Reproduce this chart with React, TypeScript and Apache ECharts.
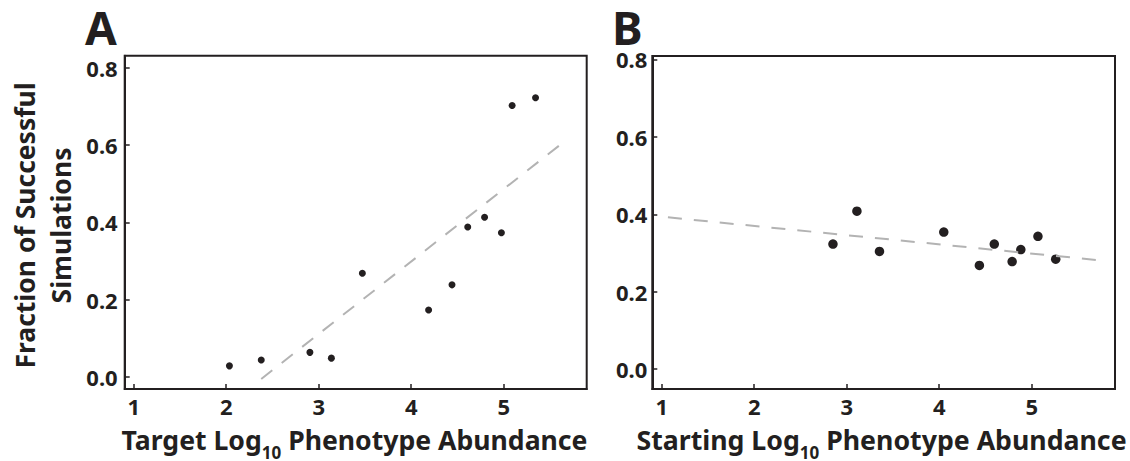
import React, { useEffect, useRef } from "react";
import * as echarts from "echarts";

const ticksX = [1, 2, 3, 4, 5];
const ticksY = [0, 0.2, 0.4, 0.6, 0.8];

const targetX = [2.035, 2.379, 2.905, 3.137, 3.472, 4.188, 4.441, 4.611, 4.793, 4.975, 5.091, 5.344];
const targetY = [0.028, 0.043, 0.063, 0.048, 0.268, 0.173, 0.238, 0.388, 0.413, 0.373, 0.703, 0.723];
const trendA = [[2.379, -0.006], [5.679, 0.614]];

const startX = [2.851, 3.11, 3.354, 4.049, 4.434, 4.595, 4.788, 4.882, 5.067, 5.259];
const startY = [0.323, 0.408, 0.304, 0.354, 0.268, 0.323, 0.278, 0.309, 0.343, 0.284];
const trendB = [[1.067, 0.392], [5.782, 0.28]];

const yTitle = ["Fraction of Successful", "Simulations"];
const xTitleA = ["Target Log", "10", " Phenotype Abundance"];
const xTitleB = ["Starting Log", "10", " Phenotype Abundance"];

const FONT = "'Noto Sans', 'Open Sans', sans-serif";
const INK = "#231f20";

export default function App() {
  const ref = useRef<HTMLDivElement>(null);
  useEffect(() => {
    document.body.style.margin = "0";
    const chart = echarts.init(ref.current!, null, { renderer: "svg" });
    const xAxisBase = (min: number, max: number, gi: number) => ({
      type: "value",
      gridIndex: gi,
      min,
      max,
      axisLine: { show: true, onZero: false, lineStyle: { color: INK, width: 2 } },
      axisTick: { show: true, inside: true, length: 5, customValues: ticksX, lineStyle: { color: INK, width: 1.5 } },
      axisLabel: { customValues: ticksX, margin: 6, color: INK, fontFamily: FONT, fontWeight: "bold", fontSize: 22 },
      splitLine: { show: false },
    });
    const yAxisBase = (min: number, max: number, gi: number, margin: number) => ({
      type: "value",
      gridIndex: gi,
      min,
      max,
      axisLine: { show: true, onZero: false, lineStyle: { color: INK, width: 2 } },
      axisTick: { show: true, inside: true, length: 5, customValues: ticksY, lineStyle: { color: INK, width: 1.5 } },
      axisLabel: {
        customValues: ticksY,
        margin,
        color: INK,
        fontFamily: FONT,
        fontWeight: "bold",
        fontSize: 22,
        formatter: (v: number) => v.toFixed(1),
      },
      splitLine: { show: false },
    });
    const richTitle = (parts: string[], cx: number, size: number) => ({
      type: "text",
      x: cx,
      y: 426,
      style: {
        text: `{a|${parts[0]}}{s|${parts[1]}}{a|${parts[2]}}`,
        align: "center",
        verticalAlign: "top",
        rich: {
          a: { fontFamily: FONT, fontWeight: "bold", fontSize: size, lineHeight: 26, verticalAlign: "top", fill: INK },
          s: { fontFamily: FONT, fontWeight: "bold", fontSize: 17, lineHeight: 17, padding: [18, 0, 0, 0], verticalAlign: "top", fill: INK },
        },
      },
    });
    chart.setOption({
      animation: false,
      grid: [
        { left: 124.7, top: 55.7, right: 543.3, bottom: 72, show: true, borderColor: INK, borderWidth: 2 },
        { left: 652.3, top: 56, right: 15, bottom: 72, show: true, borderColor: INK, borderWidth: 2 },
      ],
      xAxis: [xAxisBase(0.903, 5.897, 0), xAxisBase(0.898, 5.9, 1)],
      yAxis: [yAxisBase(-0.032, 0.832, 0, 7), yAxisBase(-0.051, 0.8085, 1, 5)],
      series: [
        {
          type: "line",
          xAxisIndex: 0,
          yAxisIndex: 0,
          data: trendA,
          showSymbol: false,
          lineStyle: { color: "#b3b3b3", width: 2, type: [14, 12] },
          silent: true,
        },
        {
          type: "scatter",
          xAxisIndex: 0,
          yAxisIndex: 0,
          data: targetX.map((x, i) => [x, targetY[i]]),
          symbolSize: 7,
          itemStyle: { color: INK, opacity: 1 },
        },
        {
          type: "line",
          xAxisIndex: 1,
          yAxisIndex: 1,
          data: trendB,
          showSymbol: false,
          lineStyle: { color: "#b3b3b3", width: 2, type: [14, 12] },
          silent: true,
        },
        {
          type: "scatter",
          xAxisIndex: 1,
          yAxisIndex: 1,
          data: startX.map((x, i) => [x, startY[i]]),
          symbolSize: 9.5,
          itemStyle: { color: INK, opacity: 1 },
        },
      ],
      graphic: [
        {
          type: "text",
          x: 85,
          y: 27,
          style: { text: "A", verticalAlign: "middle", fontFamily: FONT, fontWeight: "bold", fontSize: 46, fill: INK },
        },
        {
          type: "text",
          x: 612,
          y: 27,
          style: { text: "B", verticalAlign: "middle", fontFamily: FONT, fontWeight: "bold", fontSize: 46, fill: INK },
        },
        {
          type: "text",
          x: 24.5,
          y: 225.5,
          rotation: Math.PI / 2,
          style: { text: yTitle[0], align: "center", verticalAlign: "middle", fontFamily: FONT, fontWeight: "bold", fontSize: 26.5, fill: INK },
        },
        {
          type: "text",
          x: 61,
          y: 225.5,
          rotation: Math.PI / 2,
          style: { text: yTitle[1], align: "center", verticalAlign: "middle", fontFamily: FONT, fontWeight: "bold", fontSize: 26.5, fill: INK },
        },
        richTitle(xTitleA, 354.5, 26.6),
        richTitle(xTitleB, 881.5, 26.7),
      ],
    });
    return () => chart.dispose();
  }, []);
  return <div ref={ref} style={{ width: 1130, height: 461, position: "absolute", left: 0, top: 0 }} />;
}
